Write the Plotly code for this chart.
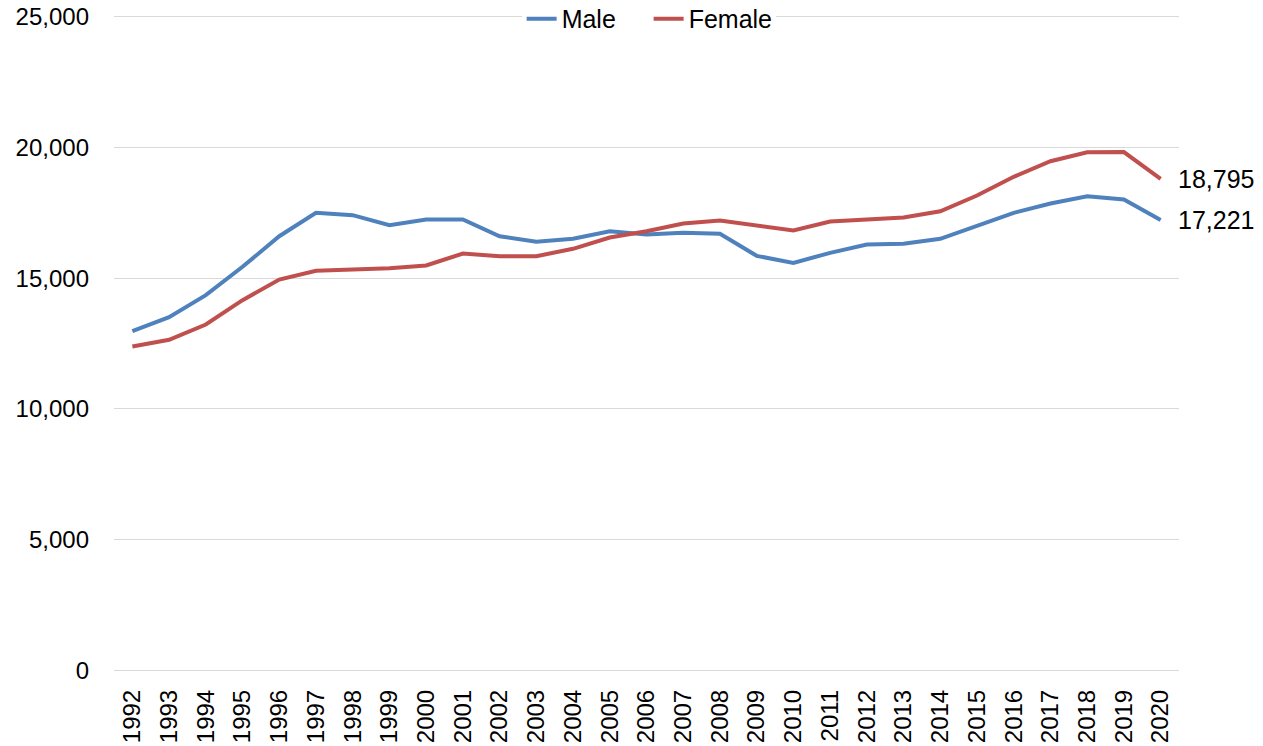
import plotly.graph_objects as go

years = list(range(1992, 2021))
male = [12970, 13505, 14347, 15432, 16602, 17495, 17405, 17023, 17240, 17240,
        16602, 16387, 16502, 16793, 16667, 16730, 16692, 15851, 15583, 15966,
        16284, 16310, 16502, 17011, 17495, 17852, 18131, 18005, 17221]
female = [12385, 12640, 13226, 14156, 14946, 15278, 15329, 15380, 15482, 15940,
          15838, 15838, 16120, 16552, 16793, 17087, 17202, 17011, 16820, 17163,
          17240, 17317, 17557, 18157, 18872, 19469, 19813, 19820, 18795]
y_ticks = [0, 5000, 10000, 15000, 20000, 25000]

BLUE = "#4F81BD"
RED = "#C0504D"
FONT = "Liberation Sans, Arial, sans-serif"

fig = go.Figure()
fig.add_trace(go.Scatter(x=years, y=male, name="Male", mode="lines",
                         line=dict(color=BLUE, width=4)))
fig.add_trace(go.Scatter(x=years, y=female, name="Female", mode="lines",
                         line=dict(color=RED, width=4)))

for series in (female, male):
    fig.add_annotation(x=years[-1], y=series[-1], text=f"{series[-1]:,}",
                       showarrow=False, xanchor="left", yanchor="middle",
                       xshift=15, font=dict(family=FONT, size=25, color="#000000"))

fig.update_layout(
    width=1263, height=746,
    margin=dict(l=114, r=84, t=15, b=74, autoexpand=False),
    paper_bgcolor="white", plot_bgcolor="white",
    font=dict(family=FONT, size=24, color="#000000"),
    showlegend=True,
    legend=dict(orientation="h", x=0.502, xanchor="center",
                y=0.994, yanchor="middle",
                font=dict(family=FONT, size=25), bgcolor="white",
                entrywidth=82, entrywidthmode="pixels", tracegroupgap=0),
    xaxis=dict(range=[1991.5, 2020.5], tickmode="array", tickvals=years,
               ticktext=[str(y) for y in years], tickangle=-90,
               showgrid=False, zeroline=False, showline=False, ticks="",
               ticklabelstandoff=12, automargin=False,
               tickfont=dict(family=FONT, size=24)),
    yaxis=dict(range=[-58, 25058], tickmode="array", tickvals=y_ticks,
               ticktext=[f"{v:,}" for v in y_ticks],
               showgrid=True, gridcolor="#D9D9D9", gridwidth=1.3,
               zeroline=False, showline=False, ticks="",
               ticklabelstandoff=24, automargin=False,
               ticklabeloverflow="allow",
               tickfont=dict(family=FONT, size=24)),
)

fig.write_html("out.html", config={"displayModeBar": False},
               post_script="document.body.style.margin='0';document.body.style.overflow='hidden';")
